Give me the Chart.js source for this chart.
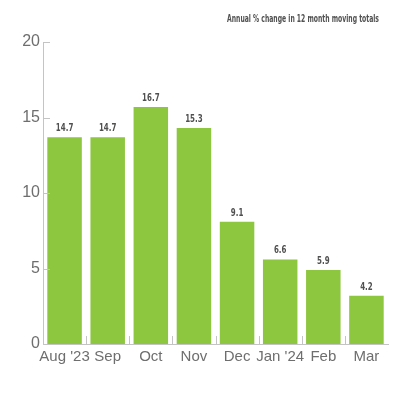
<!DOCTYPE html>
<html>
<head>
<meta charset="utf-8">
<script src="https://cdn.jsdelivr.net/npm/chart.js@4"></script>
<style>
  html, body { margin: 0; padding: 0; background: #fff; }
  #wrap { width: 400px; height: 400px; }
</style>
</head>
<body>
<div id="wrap"><canvas id="growthChart" width="400" height="400"></canvas></div>
<script>
// categories and values
const months = ["Aug '23", 'Sep', 'Oct', 'Nov', 'Dec', "Jan '24", 'Feb', 'Mar'];
// printed values above each bar
const labelValues = [14.7, 14.7, 16.7, 15.3, 9.1, 6.6, 5.9, 4.2];
// bar heights as drawn against the axis
const barValues = [13.7, 13.7, 15.7, 14.3, 8.1, 5.6, 4.9, 3.2];
const yTicks = [0, 5, 10, 15, 20];
const chartTitle = 'Annual % change in 12 month moving totals';

const narrow = "'Liberation Sans Narrow', 'DejaVu Sans Condensed', sans-serif";
const axisGrey = '#c4c4c4';

// small inward tick marks on both axes
const innerTicks = {
    id: 'innerTicks',
    afterDraw(chart) {
        const ctx = chart.ctx;
        const x = chart.scales.x, y = chart.scales.y;
        ctx.save();
        ctx.strokeStyle = axisGrey;
        ctx.lineWidth = 1;
        ctx.beginPath();
        yTicks.forEach(function (v) {
            const py = Math.round(y.getPixelForValue(v)) + 0.5;
            ctx.moveTo(x.left, py);
            ctx.lineTo(x.left + 7, py);
        });
        for (let i = 0; i < months.length - 1; i++) {
            const px = Math.round((x.getPixelForValue(i) + x.getPixelForValue(i + 1)) / 2) + 0.5;
            ctx.moveTo(px, y.bottom);
            ctx.lineTo(px, y.bottom - 8);
        }
        ctx.stroke();
        ctx.restore();
    }
};

// condensed text: squeeze the fallback font to the reference width
function squeezedText(ctx, text, x, y, sx) {
    ctx.save();
    ctx.translate(x, y);
    ctx.scale(sx, 1);
    ctx.fillText(text, 0, 0);
    ctx.restore();
}

// value labels above bars and the note at the top
const barLabels = {
    id: 'barLabels',
    afterDatasetsDraw(chart) {
        const ctx = chart.ctx;
        const meta = chart.getDatasetMeta(0);
        ctx.save();
        ctx.fillStyle = '#505050';
        ctx.font = 'bold 11px ' + narrow;
        ctx.textAlign = 'center';
        ctx.textBaseline = 'alphabetic';
        const lsx = Math.min(1, 17.5 / ctx.measureText('14.7').width);
        meta.data.forEach(function (bar, i) {
            squeezedText(ctx, labelValues[i].toFixed(1), bar.x, bar.y - 6, lsx);
        });
        ctx.font = 'bold 11px ' + narrow;
        ctx.textAlign = 'right';
        const tsx = Math.min(1, 152 / ctx.measureText(chartTitle).width);
        squeezedText(ctx, chartTitle, 379, 22, tsx);
        ctx.restore();
    }
};

const ctx = document.getElementById('growthChart').getContext('2d');
const growthChart = new Chart(ctx, {
    type: 'bar',
    data: {
        labels: months,
        datasets: [{
            data: barValues,
            backgroundColor: '#8dc63f',
            borderWidth: 0,
            barPercentage: 0.8,
            categoryPercentage: 1
        }]
    },
    options: {
        responsive: false,
        animation: false,
        layout: { padding: { top: 42, right: 12, bottom: 0, left: 0 } },
        plugins: {
            legend: { display: false },
            tooltip: { enabled: false }
        },
        scales: {
            x: {
                grid: { display: false, drawTicks: false, tickLength: 0 },
                border: { color: axisGrey },
                ticks: {
                    color: '#6e6e6e',
                    font: { family: "'Liberation Sans', Arial, sans-serif", size: 15 },
                    padding: 4,
                    maxRotation: 0,
                    autoSkip: false
                },
                afterFit: function (scale) { scale.height = 56; }
            },
            y: {
                min: 0,
                max: 20,
                grid: { display: false, drawTicks: false, tickLength: 0 },
                border: { color: axisGrey },
                ticks: {
                    stepSize: 5,
                    color: '#6e6e6e',
                    font: { family: "'Liberation Sans', Arial, sans-serif", size: 16 },
                    padding: 3
                },
                afterFit: function (scale) { scale.width = 43; }
            }
        }
    },
    plugins: [innerTicks, barLabels]
});
</script>
</body>
</html>
